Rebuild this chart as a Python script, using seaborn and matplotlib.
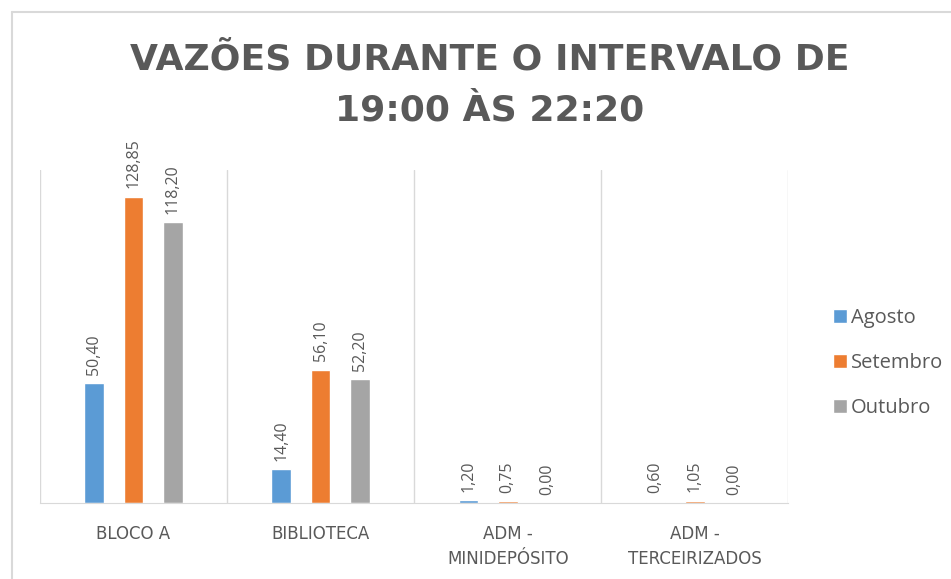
import numpy as np
import pandas as pd
import matplotlib.pyplot as plt
from matplotlib.lines import Line2D
import seaborn as sns

# dados do gráfico
categorias = ['BLOCO A', 'BIBLIOTECA', 'ADM -\nMINIDEPÓSITO', 'ADM -\nTERCEIRIZADOS']
meses = ['Agosto', 'Setembro', 'Outubro']
agosto = [50.40, 14.40, 1.20, 0.60]
setembro = [128.85, 56.10, 0.75, 1.05]
outubro = [118.20, 52.20, 0.00, 0.00]
cores = ['#5B9BD5', '#ED7D31', '#A5A5A5']

df = pd.DataFrame({
    'Local': categorias * 3,
    'Mes': [m for m in meses for _ in categorias],
    'Vazao': agosto + setembro + outubro,
})

sns.set_style('white')
plt.rcParams['font.family'] = ['Open Sans', 'DejaVu Sans']

fig = plt.figure(figsize=(9.51, 5.79), dpi=100)
# moldura do gráfico (só esquerda e topo visíveis)
x0, y0 = 11.5 / 951, 1 - 11.5 / 579
fig.add_artist(Line2D([x0, x0], [0, y0], color='#D9D9D9', lw=1.5))
fig.add_artist(Line2D([x0, 1], [y0, y0], color='#D9D9D9', lw=1.5))

ax = fig.add_axes([0.042, 0.131, 0.787, 0.575])

sns.barplot(data=df, x='Local', y='Vazao', hue='Mes', palette=cores,
            width=0.63, gap=0.5, saturation=1, ax=ax)

ax.set_ylim(0, 140)
ax.set_xlim(-0.5, len(categorias) - 0.5)
ax.set_yticks([])
ax.set_xlabel('')
ax.set_ylabel('')

# separadores verticais entre categorias
ax.set_xticks(np.arange(-0.5, len(categorias)), minor=True)
ax.grid(True, which='minor', axis='x', color='#D9D9D9', linewidth=1)
ax.tick_params(axis='x', which='both', length=0, colors='#595959', pad=16)
for lbl in ax.get_xticklabels():
    lbl.set_fontfamily('DejaVu Sans')
    lbl.set_fontsize(12)
    lbl.set_linespacing(1.5)
for s in ['top', 'right', 'left']:
    ax.spines[s].set_visible(False)
ax.spines['bottom'].set_color('#D9D9D9')

for cont in ax.containers:
    ax.bar_label(cont, labels=[f'{v:.2f}'.replace('.', ',') for v in cont.datavalues],
                 rotation=90, padding=6, color='#595959', fontsize=11.5)

leg = ax.legend(loc='center left', bbox_to_anchor=(1.035, 0.42), frameon=False,
                fontsize=14.5, handlelength=0.7, handleheight=0.7,
                handletextpad=0.2, labelspacing=1.25)
for t in leg.get_texts():
    t.set_color('#595959')

fig.text(0.515, 0.898, 'VAZÕES DURANTE O INTERVALO DE',
         ha='center', va='center', fontsize=26, fontweight='bold',
         color='#595959', family='DejaVu Sans')
fig.text(0.515, 0.81, '19:00 ÀS 22:20',
         ha='center', va='center', fontsize=26, fontweight='bold',
         color='#595959', family='DejaVu Sans')

fig.savefig('out.png', dpi=100)
